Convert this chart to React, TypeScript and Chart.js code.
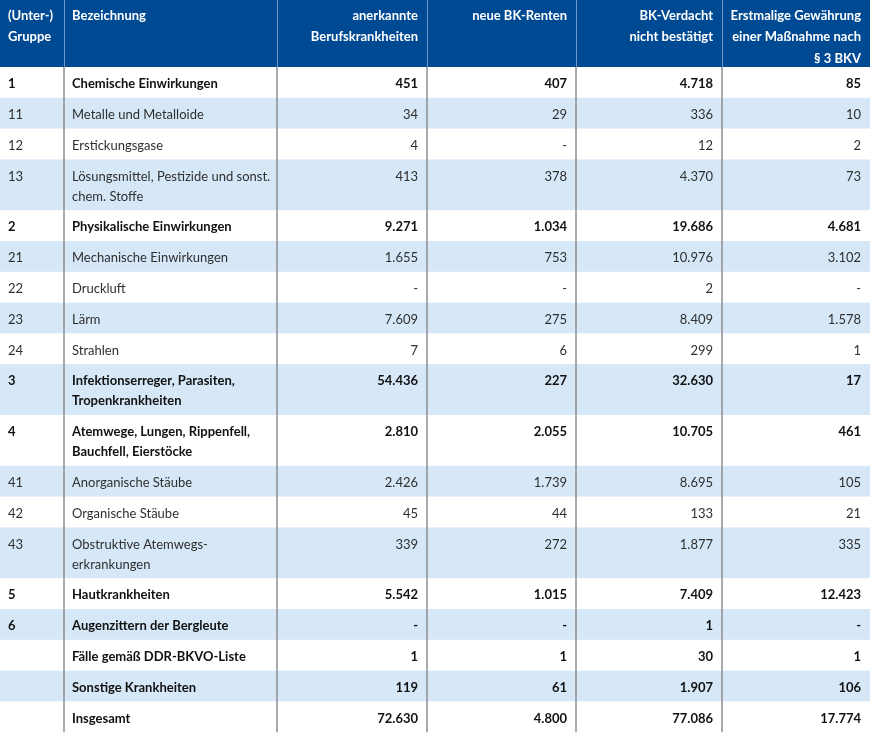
import React, { useEffect, useRef } from 'react';
import { Chart, registerables } from 'chart.js';
Chart.register(...registerables);

// ---------- data ----------
const headers: string[] = [
  '(Unter-)\nGruppe',
  'Bezeichnung',
  'anerkannte\nBerufskrankheiten',
  'neue BK-Renten',
  'BK-Verdacht\nnicht bestätigt',
  'Erstmalige Gewährung\neiner Maßnahme nach\n§ 3 BKV',
];
const groups: string[] = ['1', '11', '12', '13', '2', '21', '22', '23', '24', '3', '4', '41', '42', '43', '5', '6', '', '', ''];
const labels: string[] = [
  'Chemische Einwirkungen',
  'Metalle und Metalloide',
  'Erstickungsgase',
  'Lösungsmittel, Pestizide und sonst.\nchem. Stoffe',
  'Physikalische Einwirkungen',
  'Mechanische Einwirkungen',
  'Druckluft',
  'Lärm',
  'Strahlen',
  'Infektionserreger, Parasiten,\nTropenkrankheiten',
  'Atemwege, Lungen, Rippenfell,\nBauchfell, Eierstöcke',
  'Anorganische Stäube',
  'Organische Stäube',
  'Obstruktive Atemwegs-\nerkrankungen',
  'Hautkrankheiten',
  'Augenzittern der Bergleute',
  'Fälle gemäß DDR-BKVO-Liste',
  'Sonstige Krankheiten',
  'Insgesamt',
];
const boldRows: boolean[] = [true, false, false, false, true, false, false, false, false, true, true, false, false, false, true, true, true, true, true];
const anerkannt: (number | null)[] = [451, 34, 4, 413, 9271, 1655, null, 7609, 7, 54436, 2810, 2426, 45, 339, 5542, null, 1, 119, 72630];
const neueRenten: (number | null)[] = [407, 29, null, 378, 1034, 753, null, 275, 6, 227, 2055, 1739, 44, 272, 1015, null, 1, 61, 4800];
const nichtBestaetigt: (number | null)[] = [4718, 336, 12, 4370, 19686, 10976, 2, 8409, 299, 32630, 10705, 8695, 133, 1877, 7409, 1, 30, 1907, 77086];
const massnahme: (number | null)[] = [85, 10, 2, 73, 4681, 3102, null, 1578, 1, 17, 461, 105, 21, 335, 12423, null, 1, 106, 17774];

// ---------- layout / style ----------
const W = 870;
const H = 739;
const colEdges = [0, 64, 277, 427, 576, 722, 870];
const headerH = 67;
const rowBase = 10.8;
const lineH = 20;
const FONT = 'Lato';
const fontSize = 13;

function fmt(v: number | null): string {
  if (v === null) return '-';
  const s = String(v);
  return s.replace(/\B(?=(\d{3})+(?!\d))/g, '.');
}

const tablePlugin = {
  id: 'tablePlugin',
  afterDraw(chart: any) {
    const ctx: CanvasRenderingContext2D = chart.ctx;
    const xs = chart.scales.x;
    const ys = chart.scales.y;
    const X = (v: number) => xs.getPixelForValue(v);
    const Y = (v: number) => ys.getPixelForValue(v);
    ctx.save();

    // header
    ctx.fillStyle = '#004a93';
    ctx.fillRect(X(0), Y(0), X(W) - X(0), Y(headerH) - Y(0));
    ctx.strokeStyle = '#6f97c4';
    ctx.lineWidth = 1;
    for (let c = 1; c < colEdges.length - 1; c++) {
      const x = Math.round(X(colEdges[c])) + 0.5;
      ctx.beginPath();
      ctx.moveTo(x, Y(0));
      ctx.lineTo(x, Y(headerH));
      ctx.stroke();
    }
    ctx.fillStyle = '#ffffff';
    ctx.font = `bold ${fontSize}px ${FONT}`;
    ctx.textBaseline = 'middle';
    headers.forEach((h, c) => {
      const lines = h.split('\n');
      lines.forEach((ln, i) => {
        const y = Y(15.5 + i * 21.5);
        if (c < 2) {
          ctx.textAlign = 'left';
          ctx.fillText(ln, X(colEdges[c] + 8), y);
        } else {
          ctx.textAlign = 'right';
          ctx.fillText(ln, X(colEdges[c + 1] - 9), y);
        }
      });
    });

    // body rows
    let top = headerH;
    const numCols = [anerkannt, neueRenten, nichtBestaetigt, massnahme];
    labels.forEach((lab, r) => {
      const lines = lab.split('\n');
      const h = rowBase + lineH * lines.length;
      if (r % 2 === 1) {
        ctx.fillStyle = '#d6e8f8';
        ctx.fillRect(X(0), Y(top), X(W) - X(0), Y(top + h) - Y(top));
      }
      const bold = boldRows[r];
      ctx.font = `${bold ? 'bold ' : ''}${fontSize}px ${FONT}`;
      ctx.fillStyle = bold ? '#111111' : '#2f2f2f';
      ctx.textAlign = 'left';
      const ty = top + 17;
      ctx.fillText(groups[r], X(colEdges[0] + 8), Y(ty));
      lines.forEach((ln, i) => {
        ctx.fillText(ln, X(colEdges[1] + 8), Y(ty + i * lineH));
      });
      ctx.textAlign = 'right';
      numCols.forEach((arr, k) => {
        ctx.fillText(fmt(arr[r]), X(colEdges[k + 3] - 9), Y(ty));
      });
      top += h;
    });

    // vertical separators in body
    ctx.strokeStyle = '#8e8e8e';
    ctx.lineWidth = 1.5;
    for (let c = 1; c < colEdges.length - 1; c++) {
      const x = X(colEdges[c]);
      ctx.beginPath();
      ctx.moveTo(x, Y(headerH));
      ctx.lineTo(x, Y(top));
      ctx.stroke();
    }
    ctx.restore();
  },
};

export default function App() {
  const ref = useRef<HTMLCanvasElement | null>(null);
  useEffect(() => {
    document.body.style.margin = '0';
    if (!ref.current) return;
    const chart = new Chart(ref.current, {
      type: 'scatter',
      data: { datasets: [] },
      options: {
        animation: false,
        responsive: false,
        maintainAspectRatio: false,
        layout: { padding: 0 },
        plugins: { legend: { display: false }, tooltip: { enabled: false } },
        scales: {
          x: { type: 'linear', min: 0, max: W, display: false },
          y: { type: 'linear', min: 0, max: H, reverse: true, display: false },
        },
      },
      plugins: [tablePlugin],
    });
    return () => chart.destroy();
  }, []);
  return (
    <div style={{ position: 'absolute', left: 0, top: 0, width: W, height: H, background: '#ffffff' }}>
      <canvas ref={ref} width={W} height={H} style={{ width: W, height: H, display: 'block' }} />
    </div>
  );
}
